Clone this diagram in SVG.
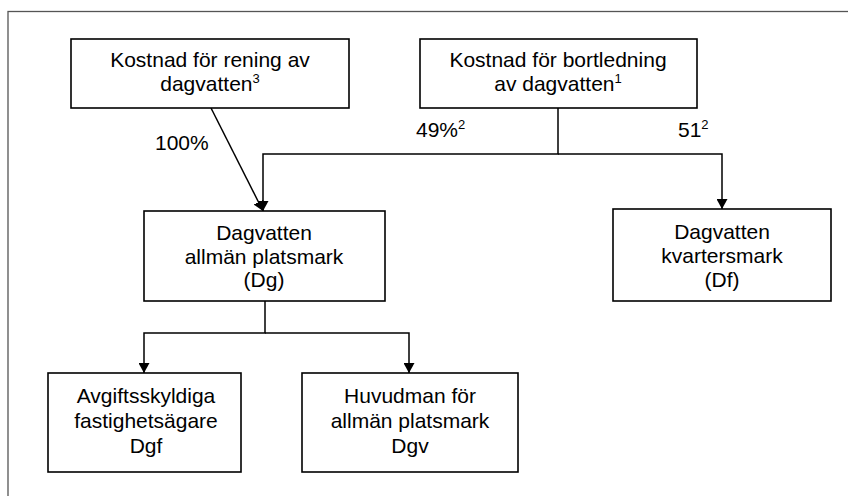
<svg xmlns="http://www.w3.org/2000/svg" width="848" height="496" viewBox="0 0 848 496">
<style>
.box{fill:#fff;stroke:#000;stroke-width:1.6}
.t{font-family:"Liberation Sans",Arial,sans-serif;font-size:21px;fill:#000;text-anchor:middle}
.l{font-family:"Liberation Sans",Arial,sans-serif;font-size:21px;fill:#000}
.sup{font-size:13px}
.c{fill:none;stroke:#000;stroke-width:1.5}
</style>
<defs>
<marker id="ah" viewBox="0 0 10 11" refX="10" refY="5.5" markerWidth="10" markerHeight="11" markerUnits="userSpaceOnUse" orient="auto">
<path d="M0,0 L10,5.5 L0,11 Z" fill="#000"/>
</marker>
</defs>
<rect width="848" height="496" fill="#fff"/>
<rect x="8" y="11.5" width="900" height="600" fill="none" stroke="#555" stroke-width="1.3"/>
<g id="connectors">
<line class="c" x1="211" y1="108" x2="263" y2="211" marker-end="url(#ah)"/>
<polyline class="c" points="558,108 558,154 263,154 263,211" marker-end="url(#ah)"/>
<polyline class="c" points="558,154 722,154 722,209" marker-end="url(#ah)"/>
<polyline class="c" points="265,301 265,333 144,333 144,373" marker-end="url(#ah)"/>
<polyline class="c" points="265,333 409,333 409,373" marker-end="url(#ah)"/>
</g>
<g id="labels">
<text class="l" x="155" y="150">100%</text>
<text class="l" x="416" y="137">49%<tspan class="sup" dy="-8">2</tspan></text>
<text class="l" x="678" y="137">51<tspan class="sup" dy="-8">2</tspan></text>
</g>
<g id="n1">
<rect class="box" x="71" y="39" width="278" height="69"/>
<text class="t" x="210" y="67">Kostnad för rening av</text>
<text class="t" x="210" y="91">dagvatten<tspan class="sup" dy="-8">3</tspan></text>
</g>
<g id="n2">
<rect class="box" x="420" y="39" width="277" height="69"/>
<text class="t" x="558" y="67">Kostnad för bortledning</text>
<text class="t" x="558" y="91">av dagvatten<tspan class="sup" dy="-8">1</tspan></text>
</g>
<g id="n3">
<rect class="box" x="144" y="211" width="241" height="90"/>
<text class="t" x="264" y="240">Dagvatten</text>
<text class="t" x="264" y="264">allmän platsmark</text>
<text class="t" x="264" y="287">(Dg)</text>
</g>
<g id="n4">
<rect class="box" x="613" y="209" width="218" height="92"/>
<text class="t" x="722" y="239">Dagvatten</text>
<text class="t" x="722" y="263">kvartersmark</text>
<text class="t" x="722" y="287">(Df)</text>
</g>
<g id="n5">
<rect class="box" x="48" y="373" width="193" height="99"/>
<text class="t" x="146" y="403">Avgiftsskyldiga</text>
<text class="t" x="146" y="428">fastighetsägare</text>
<text class="t" x="146" y="453">Dgf</text>
</g>
<g id="n6">
<rect class="box" x="302" y="373" width="216" height="99"/>
<text class="t" x="410" y="403">Huvudman för</text>
<text class="t" x="410" y="428">allmän platsmark</text>
<text class="t" x="410" y="453">Dgv</text>
</g>
</svg>
